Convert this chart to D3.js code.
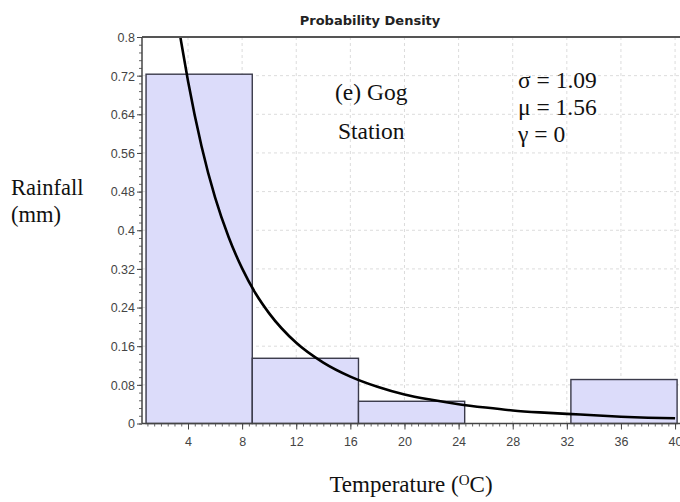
<!DOCTYPE html>
<html>
<head>
<meta charset="utf-8">
<script src="https://cdn.jsdelivr.net/npm/d3@7"></script>
<style>
  body { margin: 0; background: #fff; }
  .serif { font-family: "Liberation Serif", "Times New Roman", serif; fill: #111; }
  .tick text { font-family: "Liberation Sans", Arial, sans-serif; font-size: 12.5px; fill: #444; }
</style>
</head>
<body>
<div id="chart"></div>
<script>
// histogram bins (temperature edges) and relative frequencies
const binEdges = [0.9, 8.75, 16.6, 24.45, 32.3, 40.15];
const binValues = [0.723, 0.135, 0.046, 0, 0.091];

// fitted density curve
const curveX = [3.3, 3.5, 4, 5, 6, 7, 8, 9, 10, 12, 14, 16, 18, 20, 22, 24, 26, 28, 30, 32, 34, 36, 38, 40];
const curveY = [0.823, 0.789, 0.709, 0.574, 0.468, 0.386, 0.321, 0.269, 0.228, 0.167, 0.126, 0.097, 0.076, 0.060, 0.049, 0.040, 0.033, 0.027, 0.023, 0.020, 0.017, 0.014, 0.012, 0.011];

// tick labels
const xTicks = [4, 8, 12, 16, 20, 24, 28, 32, 36, 40];
const yTicks = [0, 0.08, 0.16, 0.24, 0.32, 0.4, 0.48, 0.56, 0.64, 0.72, 0.8];

const W = 680, H = 502;
const plot = {left: 142, top: 37, right: 684, bottom: 423.5};

const svg = d3.select("#chart").append("svg")
    .attr("width", W)
    .attr("height", H);

const x = d3.scaleLinear()
    .domain([0.6, 40.66])
    .range([plot.left, plot.right]);

const y = d3.scaleLinear()
    .domain([0, 0.8])
    .range([plot.bottom, plot.top]);

svg.append("clipPath").attr("id", "clip")
  .append("rect")
    .attr("x", plot.left).attr("y", plot.top)
    .attr("width", plot.right - plot.left).attr("height", plot.bottom - plot.top);

// dashed grid
svg.append("g").selectAll("line")
  .data(xTicks)
  .join("line")
    .attr("x1", d => x(d)).attr("x2", d => x(d))
    .attr("y1", plot.top).attr("y2", plot.bottom)
    .attr("stroke", "#dcdcdc")
    .attr("stroke-dasharray", "3,3");

svg.append("g").selectAll("line")
  .data(yTicks.slice(1, -1))
  .join("line")
    .attr("x1", plot.left).attr("x2", plot.right)
    .attr("y1", d => y(d)).attr("y2", d => y(d))
    .attr("stroke", "#dcdcdc")
    .attr("stroke-dasharray", "3,3");

// bars
const bins = binValues.map((v, i) => ({x0: binEdges[i], x1: binEdges[i + 1], v: v}));
svg.append("g").selectAll("rect")
  .data(bins.filter(d => d.v > 0))
  .join("rect")
    .attr("x", d => x(d.x0))
    .attr("y", d => y(d.v))
    .attr("width", d => x(d.x1) - x(d.x0))
    .attr("height", d => y(0) - y(d.v))
    .attr("fill", "#dcdcfa")
    .attr("stroke", "#3a3a4a")
    .attr("stroke-width", 1.4);

// density curve
const line = d3.line()
    .x(d => x(d[0]))
    .y(d => y(d[1]))
    .curve(d3.curveMonotoneX);

svg.append("path")
    .datum(curveX.map((d, i) => [d, curveY[i]]))
    .attr("clip-path", "url(#clip)")
    .attr("fill", "none")
    .attr("stroke", "#000")
    .attr("stroke-width", 2.6)
    .attr("d", line);

// top border
svg.append("line")
    .attr("x1", plot.left).attr("x2", W)
    .attr("y1", plot.top).attr("y2", plot.top)
    .attr("stroke", "#555")
    .attr("stroke-width", 2);

// minor ticks
const xAxisMinor = d3.axisBottom(x).tickValues(d3.range(1, 40.6, 0.5)).tickSize(3).tickFormat("");
const yAxisMinor = d3.axisLeft(y).tickValues(d3.range(0, 0.801, 0.016)).tickSize(3).tickFormat("");

svg.append("g")
    .attr("transform", `translate(0,${plot.bottom})`)
    .call(xAxisMinor)
    .call(g => g.select(".domain").remove())
    .call(g => g.selectAll("line").attr("stroke", "#666"));

svg.append("g")
    .attr("transform", `translate(${plot.left},0)`)
    .call(yAxisMinor)
    .call(g => g.select(".domain").remove())
    .call(g => g.selectAll("line").attr("stroke", "#666"));

// major axes
const xAxis = d3.axisBottom(x).tickValues(xTicks).tickSize(6).tickPadding(8);
const yAxis = d3.axisLeft(y).tickValues(yTicks).tickSize(5).tickPadding(2)
    .tickFormat(d => d === 0 ? "0" : d3.format("")(+d.toFixed(2)));

svg.append("g")
    .attr("transform", `translate(0,${plot.bottom})`)
    .call(xAxis)
    .call(g => g.select(".domain").attr("d", `M${plot.left},0H${W}`).attr("stroke", "#444").attr("stroke-width", 1.5))
    .call(g => g.selectAll(".tick line").attr("stroke", "#444"));

svg.append("g")
    .attr("transform", `translate(${plot.left},0)`)
    .call(yAxis)
    .call(g => g.select(".domain").attr("d", `M0,${plot.top}V${plot.bottom}`).attr("stroke", "#444").attr("stroke-width", 1.5))
    .call(g => g.selectAll(".tick line").attr("stroke", "#444"))
    .call(g => g.selectAll(".tick text").attr("dy", "0.35em"));

// title
svg.append("text")
    .attr("x", 370)
    .attr("y", 25)
    .attr("text-anchor", "middle")
    .style("font-family", "'DejaVu Sans', Verdana, sans-serif")
    .style("font-weight", "bold")
    .style("font-size", "13px")
    .style("fill", "#222")
    .text("Probability Density");

// axis titles
svg.append("text").attr("class", "serif")
    .attr("x", 11).attr("y", 195)
    .style("font-size", "22.5px")
    .text("Rainfall");
svg.append("text").attr("class", "serif")
    .attr("x", 11).attr("y", 222)
    .style("font-size", "22.5px")
    .text("(mm)");

const xt = svg.append("text").attr("class", "serif")
    .attr("x", 411).attr("y", 492)
    .attr("text-anchor", "middle")
    .style("font-size", "23px");
xt.append("tspan").text("Temperature (");
xt.append("tspan").attr("dy", -7).style("font-size", "15px").text("O");
xt.append("tspan").attr("dy", 7).text("C)");

// annotations
svg.append("text").attr("class", "serif")
    .attr("x", 335).attr("y", 100)
    .style("font-size", "23.5px")
    .text("(e) Gog");
svg.append("text").attr("class", "serif")
    .attr("x", 338).attr("y", 139)
    .style("font-size", "23.5px")
    .text("Station");

const params = ["\u03c3 = 1.09", "\u03bc = 1.56", "\u03b3 = 0"];
svg.append("g").selectAll("text")
  .data(params)
  .join("text")
    .attr("class", "serif")
    .attr("x", 518)
    .attr("y", (d, i) => 88 + i * 27)
    .style("font-size", "23.5px")
    .text(d => d);
</script>
</body>
</html>
